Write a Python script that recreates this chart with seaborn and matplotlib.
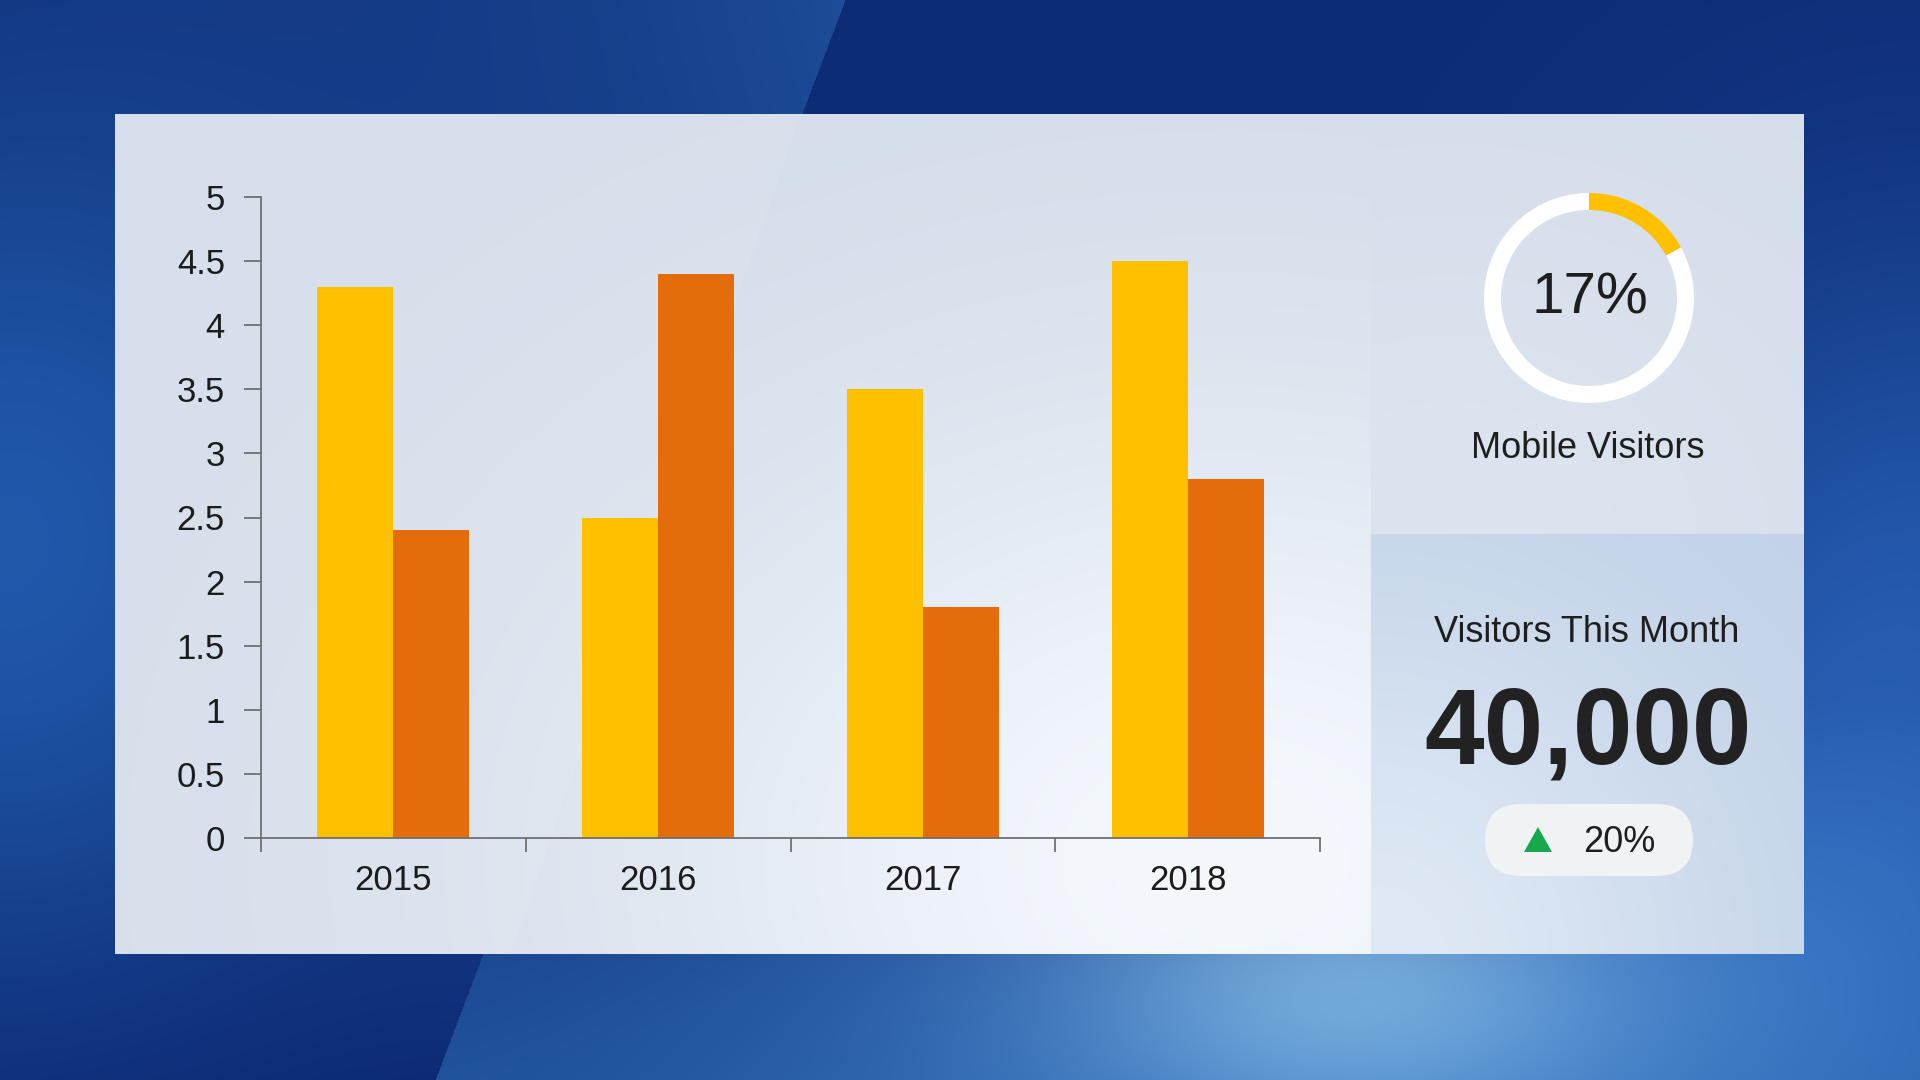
import numpy as np
import pandas as pd
import matplotlib
matplotlib.use('Agg')
import matplotlib.pyplot as plt
import seaborn as sns
from matplotlib.patches import FancyBboxPatch
from matplotlib.ticker import FuncFormatter

# ---------------- data ----------------
years = ['2015', '2016', '2017', '2018']
series_a = [4.3, 2.5, 3.5, 4.5]
series_b = [2.4, 4.4, 1.8, 2.8]
series_names = ['Series 1', 'Series 2']
y_ticks = [0, 0.5, 1, 1.5, 2, 2.5, 3, 3.5, 4, 4.5, 5]
donut_values = [17, 83]
donut_label = '17%'
donut_caption = 'Mobile Visitors'
kpi_title = 'Visitors This Month'
kpi_value = '40,000'
kpi_change = '20%'

sns.set_style('ticks')
plt.rcParams['font.family'] = ['Liberation Sans', 'DejaVu Sans']

W, H = 1920, 1080
fig = plt.figure(figsize=(19.2, 10.8), dpi=100)

# ---------------- background ----------------
yy, xx = np.mgrid[0:H, 0:W].astype(float)
img = np.zeros((H, W, 3))
img[:] = np.array([13, 44, 118])


def glow(cx, cy, sx, sy):
    return np.exp(-(((xx - cx) / sx) ** 2 + ((yy - cy) / sy) ** 2) / 2)[..., None]


# soft side glows
img += glow(0, 560, 240, 300) * np.array([18, 40, 48])
img += glow(1920, 640, 240, 300) * np.array([22, 42, 52])
# sheet left of the diagonal: lighter near the edge at the top
line_x = 845 - (845 - 435) * yy / H
left = (xx < line_x)[..., None]
sheet = np.exp(-np.clip(line_x - xx, 0, None) / 520)[..., None] * (1 - 1.25 * yy / H)[..., None]
img += left * sheet * np.array([16, 32, 34])
# right of the diagonal: lighter toward the bottom
right = (xx >= line_x)[..., None]
img += right * np.clip((yy - 700) / 380, 0, 1)[..., None] * np.array([15, 30, 30])
# bottom glow
img += glow(1350, 1000, 460, 220) * np.array([30, 45, 45])
img += glow(1350, 985, 200, 100) * np.array([60, 55, 30])

px0, px1, py0, py1 = 115, 1804, 114, 954
split_x, split_y = 1371, 534

# left panel
sub = (slice(py0, py1), slice(px0, split_x))
lp = np.zeros((H, W, 3))
lp[:] = np.array([212, 221, 234])
lp += glow(1230, 860, 430, 320) * np.array([32, 27, 19])
lp[(xx < 800 - 290 * (yy - py0) / (py1 - py0))] += np.array([2, 2, 1])
img[sub] = lp[sub]

# right top panel
sub = (slice(py0, split_y), slice(split_x, px1))
rp = np.zeros((H, W, 3))
rp[:] = np.array([212, 221, 234])
rp += glow(1450, 540, 300, 250) * np.array([8, 7, 5])
img[sub] = rp[sub]

# right bottom panel
sub = (slice(split_y, py1), slice(split_x, px1))
bp = np.zeros((H, W, 3))
bp[:] = np.array([193, 209, 231])
bp += glow(1371, 960, 260, 260) * np.array([30, 24, 14])
img[sub] = bp[sub]

img = np.clip(img, 0, 255) / 255.0

bg = fig.add_axes([0, 0, 1, 1], zorder=0)
bg.imshow(img, extent=(0, W, H, 0), aspect='auto', interpolation='nearest')
bg.set_xlim(0, W)
bg.set_ylim(H, 0)
bg.axis('off')

# ---------------- bar chart ----------------
ax = fig.add_axes([261 / W, (H - 838) / H, (1320 - 261) / W, (838 - 197) / H], zorder=1)
ax.patch.set_alpha(0)
df = pd.DataFrame({
    'year': years * 2,
    'value': series_a + series_b,
    'series': [series_names[0]] * len(years) + [series_names[1]] * len(years),
})
sns.barplot(data=df, x='year', y='value', hue='series',
            palette=['#FFC000', '#E46C0A'], width=0.574, saturation=1,
            linewidth=0, errorbar=None, legend=False, ax=ax)
ax.set_xlim(-0.5, len(years) - 0.5)
ax.set_ylim(0, 5)
ax.set_xlabel('')
ax.set_ylabel('')
ax.set_yticks(y_ticks)
ax.yaxis.set_major_formatter(FuncFormatter(lambda v, p: f'{v:g}'))
bounds = [i - 0.5 for i in range(len(years) + 1)]
ax.set_xticks(bounds, labels=[''] * len(bounds))
ax.set_xticks(range(len(years)), labels=years, minor=True)
axis_col = '#6f6f6f'
ax.tick_params(axis='x', which='major', length=10, width=1.3, color=axis_col, direction='out')
ax.tick_params(axis='x', which='minor', length=0, pad=19, labelsize=25, labelcolor='#1c1c1c')
ax.tick_params(axis='y', length=12, width=1.3, color=axis_col, pad=14, labelsize=25,
               labelcolor='#1c1c1c', direction='out')
sns.despine(ax=ax)
for s in ['left', 'bottom']:
    ax.spines[s].set_color(axis_col)
    ax.spines[s].set_linewidth(1.3)

# ---------------- donut ----------------
cx, cy, R = 1589, 298, 105
half = R * 1.25
dax = fig.add_axes([(cx - half) / W, (H - cy - half) / H, 2 * half / W, 2 * half / H], zorder=1)
dax.pie(donut_values, colors=['#FFC000', '#FFFFFF'], startangle=90, counterclock=False,
        radius=1, wedgeprops=dict(width=17 / R, linewidth=0))
dax.set_xlim(-1.25, 1.25)
dax.set_ylim(-1.25, 1.25)
dax.set_aspect('equal')
dax.axis('off')

# ---------------- overlay texts ----------------
ov = fig.add_axes([0, 0, 1, 1], zorder=5)
ov.patch.set_alpha(0)
ov.set_xlim(0, W)
ov.set_ylim(H, 0)
ov.axis('off')

txt = '#1e1e1e'
ov.text(1590, 299, donut_label, ha='center', va='center', fontsize=42, color=txt)
ov.text(1588, 448, donut_caption, ha='center', va='center', fontsize=26, color=txt)
ov.text(1587, 632, kpi_title, ha='center', va='center', fontsize=26, color=txt)
ov.text(1588, 736, kpi_value, ha='center', va='center', fontsize=77, fontweight='bold', color='#222222')

pill = FancyBboxPatch((1485, 804), 208, 72, boxstyle='round,pad=0,rounding_size=36',
                      facecolor='#F1F2F4', edgecolor='none')
ov.add_patch(pill)
ov.fill([1524, 1552, 1538], [852, 852, 827], color='#17A84E', lw=0)
ov.text(1619, 842, kpi_change, ha='center', va='center', fontsize=26, color=txt)

fig.savefig('out.png', dpi=100)
